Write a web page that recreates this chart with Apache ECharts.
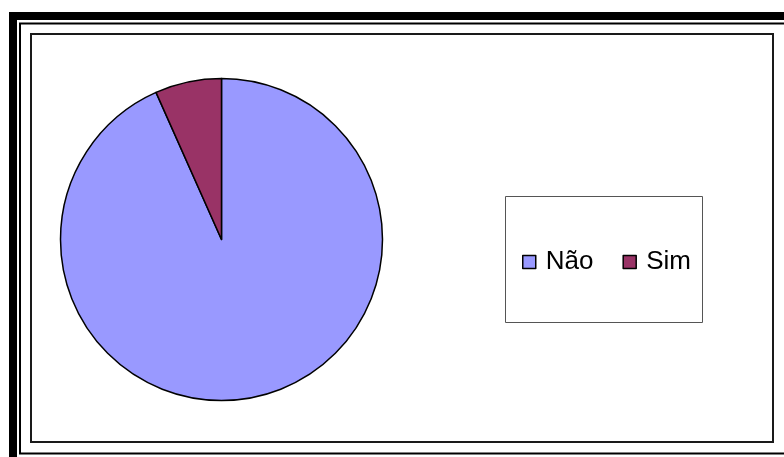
<!DOCTYPE html>
<html>
<head>
<meta charset="utf-8">
<script src="https://cdn.jsdelivr.net/npm/echarts@6/dist/echarts.min.js"></script>
<style>
  html, body { margin: 0; padding: 0; background: #ffffff; }
  #chart { width: 784px; height: 457px; }
</style>
</head>
<body>
<div id="chart"></div>
<script>
// Answer categories and counts
const categories = ['Não', 'Sim'];
const values = [28, 2];
const sliceColors = ['#9999FF', '#993366'];

const chart = echarts.init(document.getElementById('chart'), null, { renderer: 'canvas' });

const pieData = categories.map((name, i) => ({
  name: name,
  value: values[i],
  itemStyle: { color: sliceColors[i] }
}));

chart.setOption({
  animation: false,
  backgroundColor: '#ffffff',
  graphic: [
    // heavy outer frame (runs past the right and bottom edges)
    { type: 'rect', shape: { x: 13, y: 16, width: 800, height: 460 },
      style: { fill: 'none', stroke: '#000', lineWidth: 8 }, silent: true },
    // thin line inside the heavy frame
    { type: 'rect', shape: { x: 20, y: 23.5, width: 790, height: 430 },
      style: { fill: 'none', stroke: '#000', lineWidth: 2 }, silent: true },
    // plot area box
    { type: 'rect', shape: { x: 31, y: 34, width: 742, height: 408 },
      style: { fill: 'none', stroke: '#1a1a1a', lineWidth: 2 }, silent: true },
    // legend box
    { type: 'rect', shape: { x: 505.5, y: 196.5, width: 197, height: 126 },
      style: { fill: '#fff', stroke: '#555', lineWidth: 1 }, silent: true }
  ],
  legend: {
    data: categories,
    orient: 'horizontal',
    left: 522,
    top: 249,
    padding: 0,
    itemWidth: 13,
    itemHeight: 13,
    itemGap: 29,
    icon: 'rect',
    selectedMode: false,
    itemStyle: { borderColor: '#000', borderWidth: 1.5 },
    textStyle: {
      fontFamily: '"Liberation Sans", Arial, sans-serif',
      fontSize: 26,
      color: '#000',
      lineHeight: 20,
      padding: [0, 0, 0, 5]
    }
  },
  series: [{
    type: 'pie',
    center: [221.5, 239.5],
    radius: [0, 161],
    startAngle: 90,
    clockwise: true,
    silent: true,
    label: { show: false },
    labelLine: { show: false },
    emphasis: { disabled: true },
    itemStyle: { borderColor: '#000', borderWidth: 1.5 },
    data: pieData
  }]
});
</script>
</body>
</html>
